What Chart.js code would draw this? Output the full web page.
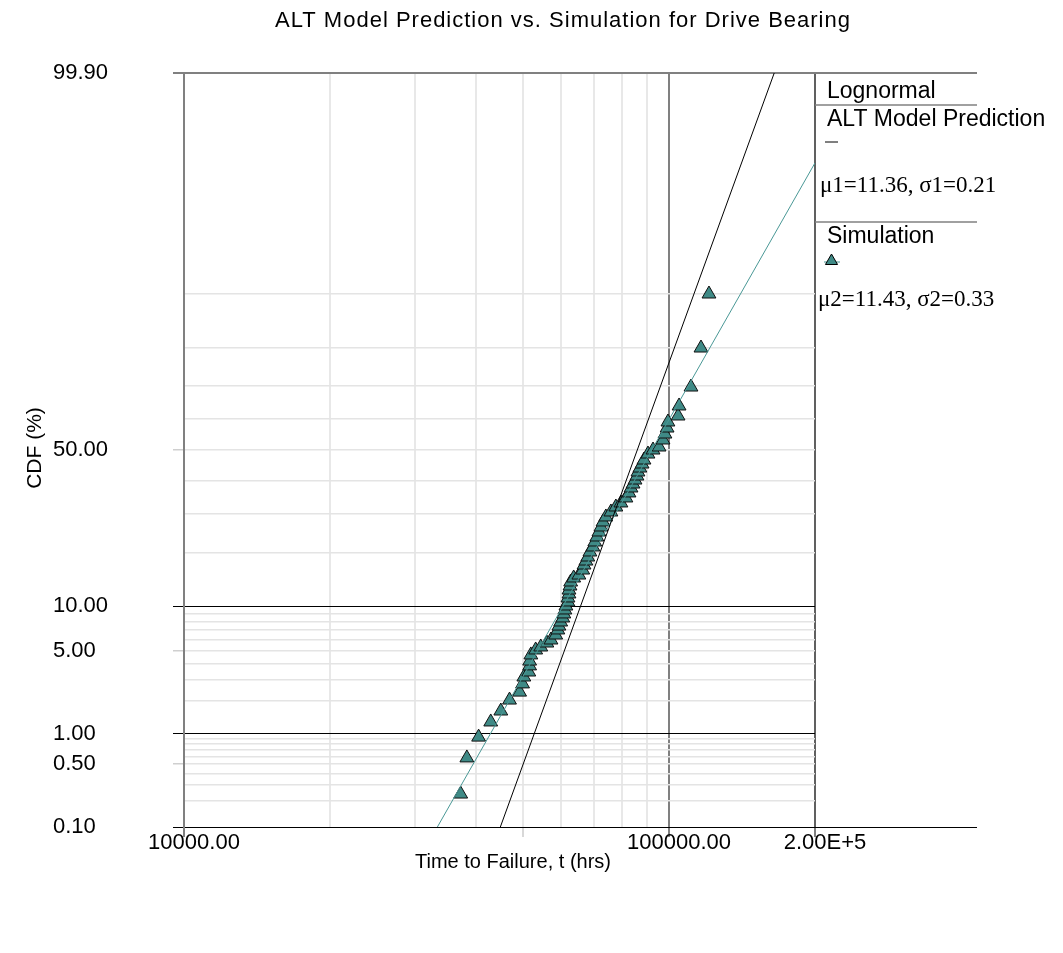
<!DOCTYPE html>
<html>
<head>
<meta charset="utf-8">
<script src="https://cdn.jsdelivr.net/npm/chart.js@4.4.1/dist/chart.umd.min.js"></script>
<style>
  html, body { margin: 0; padding: 0; background: #fff; }
</style>
</head>
<body>
<canvas id="plot" width="1063" height="953"></canvas>
<script>
// simulation failure times (hrs) and their plotted CDF (%)
const simTimes = [37200, 38300, 40500, 42900, 45000, 46900, 49200, 49900, 50200, 51400,
  51600, 51600, 51900, 53100, 54400, 56000, 57100, 58400, 59000, 59300,
  59800, 60400, 60700, 61000, 61300, 61900, 61900, 62200, 62200, 62500,
  62700, 63600, 65200, 66400, 66800, 67400, 68000, 68700, 69700, 70300,
  71000, 71700, 72400, 73100, 74100, 75900, 77700, 79600, 81500, 82700,
  83500, 84300, 85100, 85900, 86300, 87100, 88000, 88800, 90500, 92700,
  95400, 97200, 98100, 99100, 99500, 104400, 104900, 111000, 116400, 120900];
const simCdf = [0.24, 0.58, 0.93, 1.29, 1.62, 2.02, 2.36, 2.76, 3.14, 3.44,
  3.84, 4.18, 4.65, 5.06, 5.32, 5.68, 5.97, 6.47, 7.01, 7.45,
  7.93, 8.43, 8.95, 9.49, 10.05, 10.64, 11.26, 11.90, 12.55, 13.25,
  13.96, 14.71, 15.27, 16.26, 17.29, 18.14, 19.02, 20.16, 21.33, 22.54,
  23.79, 25.08, 26.40, 27.76, 29.15, 30.57, 32.02, 33.21, 34.71, 36.24,
  37.78, 39.02, 40.28, 41.56, 42.85, 44.12, 45.43, 46.73, 48.68, 50.00,
  50.98, 53.27, 55.21, 57.15, 59.08, 60.98, 64.09, 69.71, 79.84, 89.95];

// the two fitted lognormal lines (straight on this paper), end points
const altLineTimes = [44900, 164800];
const altLineCdf = [0.1, 99.9];
const simLineTimes = [33300, 200000];
const simLineCdf = [0.1, 99.07];

const yTicks = [0.1, 0.2, 0.3, 0.4, 0.5, 0.6, 0.7, 0.8, 0.9, 1, 2, 3, 4, 5, 6, 7, 8, 9,
  10, 20, 30, 40, 50, 60, 70, 80, 90, 99.9];
const yLabels = { 0.1: '0.10', 0.5: '0.50', 1: '1.00', 5: '5.00', 10: '10.00', 50: '50.00', 99.9: '99.90' };
const xTicks = [10000, 20000, 30000, 40000, 50000, 60000, 70000, 80000, 90000, 100000, 200000];
const xLabels = { 10000: '10000.00', 100000: '100000.00', 200000: '2.00E+5' };

const teal = '#3f8a86';
const tealLine = '#4a9896';

// inverse normal cdf (Acklam)
function probit(p) {
  const a = [-39.69683028665376, 220.9460984245205, -275.9285104469687, 138.3577518672690, -30.66479806614716, 2.506628277459239];
  const b = [-54.47609879822406, 161.5858368580409, -155.6989798598866, 66.80131188771972, -13.28068155288572];
  const c = [-0.007784894002430293, -0.3223964580411365, -2.400758277161838, -2.549732539343734, 4.374664141464968, 2.938163982698783];
  const d = [0.007784695709041462, 0.3224671290700398, 2.445134137142996, 3.754408661907416];
  const plow = 0.02425;
  let q, r;
  if (p < plow) {
    q = Math.sqrt(-2 * Math.log(p));
    return (((((c[0]*q+c[1])*q+c[2])*q+c[3])*q+c[4])*q+c[5]) / ((((d[0]*q+d[1])*q+d[2])*q+d[3])*q+1);
  }
  if (p > 1 - plow) {
    q = Math.sqrt(-2 * Math.log(1 - p));
    return -(((((c[0]*q+c[1])*q+c[2])*q+c[3])*q+c[4])*q+c[5]) / ((((d[0]*q+d[1])*q+d[2])*q+d[3])*q+1);
  }
  q = p - 0.5; r = q * q;
  return (((((a[0]*r+a[1])*r+a[2])*r+a[3])*r+a[4])*r+a[5])*q / (((((b[0]*r+b[1])*r+b[2])*r+b[3])*r+b[4])*r+1);
}

function normCdf(z) {
  const t = 1 / (1 + 0.2316419 * Math.abs(z));
  const dd = 0.3989423 * Math.exp(-z * z / 2);
  const p = dd * t * (0.3193815 + t * (-0.3565638 + t * (1.781478 + t * (-1.821256 + t * 1.330274))));
  return z > 0 ? 1 - p : p;
}

// normal probability paper axis
class ProbabilityScale extends Chart.Scale {
  determineDataLimits() {
    this.min = this.options.min;
    this.max = this.options.max;
  }
  buildTicks() {
    return yTicks.map(v => ({ value: v }));
  }
  getLabelForValue(v) {
    return v.toFixed(2);
  }
  configure() {
    super.configure();
    this._zMin = probit(this.min / 100);
    this._zMax = probit(this.max / 100);
  }
  getPixelForValue(v) {
    const z = probit(v / 100);
    return this.getPixelForDecimal((z - this._zMin) / (this._zMax - this._zMin));
  }
  getValueForPixel(px) {
    const z = this._zMin + this.getDecimalForPixel(px) * (this._zMax - this._zMin);
    return normCdf(z) * 100;
  }
}
ProbabilityScale.id = 'probability';
ProbabilityScale.defaults = {};
Chart.register(ProbabilityScale);

const toPoints = (xs, ys) => xs.map((x, i) => ({ x: x, y: ys[i] }));

function hline(ctx, x1, x2, y) {
  ctx.beginPath(); ctx.moveTo(x1, y); ctx.lineTo(x2, y); ctx.stroke();
}

function triangle(ctx, x, y, r) {
  ctx.beginPath();
  ctx.moveTo(x, y - r);
  ctx.lineTo(x + 0.866 * r, y + r / 2);
  ctx.lineTo(x - 0.866 * r, y + r / 2);
  ctx.closePath();
  ctx.fill(); ctx.stroke();
}

// titles, legend column and frame extensions
const decorations = {
  id: 'decorations',
  afterDraw(chart) {
    const ctx = chart.ctx;
    const a = chart.chartArea;
    const colRight = 977;
    ctx.save();

    ctx.strokeStyle = '#808080';
    ctx.lineWidth = 2;
    hline(ctx, a.right, colRight, a.top);
    ctx.lineWidth = 1.5;
    hline(ctx, a.right, colRight, 105);
    hline(ctx, a.right, colRight, 222);
    ctx.strokeStyle = '#000';
    ctx.lineWidth = 1;
    hline(ctx, a.right, colRight, a.bottom + 0.5);

    ctx.fillStyle = '#000';
    ctx.textBaseline = 'middle';

    ctx.textAlign = 'center';
    ctx.font = '22px "Liberation Sans", Arial, sans-serif';
    ctx.letterSpacing = '1px';
    ctx.fillText('ALT Model Prediction vs. Simulation for Drive Bearing', 563, 21);
    ctx.letterSpacing = '0px';

    ctx.font = '20px "Liberation Sans", Arial, sans-serif';
    ctx.fillText('Time to Failure, t (hrs)', 513, 862);

    ctx.save();
    ctx.translate(35, 448);
    ctx.rotate(-Math.PI / 2);
    ctx.font = '21px "Liberation Sans", Arial, sans-serif';
    ctx.fillText('CDF (%)', 0, 0);
    ctx.restore();

    ctx.textAlign = 'left';
    ctx.font = '23px "Liberation Sans", Arial, sans-serif';
    ctx.fillText('Lognormal', 827, 92);
    ctx.fillText('ALT Model Prediction', 827, 120);
    ctx.fillText('Simulation', 827, 237);

    ctx.strokeStyle = '#000';
    ctx.lineWidth = 1;
    hline(ctx, 825, 838, 142);

    ctx.font = '23px "Liberation Serif", "Times New Roman", serif';
    ctx.fillText('\u03bc1=11.36, \u03c31=0.21', 820, 186);
    ctx.fillText('\u03bc2=11.43, \u03c32=0.33', 818, 300);

    ctx.strokeStyle = tealLine;
    hline(ctx, 824, 840, 262);
    ctx.fillStyle = teal;
    ctx.strokeStyle = '#000';
    triangle(ctx, 831.5, 261, 7);

    ctx.restore();
  }
};

const isMainY = v => v === 10 || v === 1 || v === 0.1;

new Chart(document.getElementById('plot'), {
  type: 'scatter',
  data: {
    datasets: [
      {
        label: 'ALT Model Prediction',
        data: toPoints(altLineTimes, altLineCdf),
        showLine: true,
        borderColor: '#000',
        borderWidth: 1,
        pointRadius: 0,
        order: 0
      },
      {
        label: 'Simulation fit',
        data: toPoints(simLineTimes, simLineCdf),
        showLine: true,
        borderColor: tealLine,
        borderWidth: 1,
        pointRadius: 0,
        order: 1
      },
      {
        label: 'Simulation',
        data: toPoints(simTimes, simCdf),
        showLine: false,
        pointStyle: 'triangle',
        pointRadius: 8,
        backgroundColor: teal,
        borderColor: '#111',
        borderWidth: 1,
        order: 2
      }
    ]
  },
  options: {
    responsive: false,
    animation: false,
    layout: { padding: { left: 53, right: 248, top: 73, bottom: 0 } },
    plugins: {
      legend: { display: false },
      title: { display: false },
      tooltip: { enabled: false }
    },
    scales: {
      x: {
        type: 'logarithmic',
        min: 10000,
        max: 200000,
        afterBuildTicks: scale => { scale.ticks = xTicks.map(v => ({ value: v })); },
        afterFit: scale => {
          scale.height = 126;
          scale.paddingLeft = 0;
          scale.paddingRight = 0;
        },
        ticks: {
          autoSkip: false,
          maxRotation: 0,
          padding: -5,
          labelOffset: 10,
          color: '#000',
          font: { family: '"Liberation Sans", Arial, sans-serif', size: 22, lineHeight: 1 },
          callback: v => xLabels[v] || ''
        },
        grid: {
          tickLength: 10,
          lineWidth: 2,
          color: ctx => {
            const v = ctx.tick && ctx.tick.value;
            if (v === 100000) return '#808080';
            if (v === 200000) return '#606060';
            if (v === 10000) return '#808080';
            return '#e8e8e8';
          },
          tickColor: ctx => {
            const v = ctx.tick && ctx.tick.value;
            if (xLabels[v]) return '#808080';
            if (v === 50000) return '#d8d8d8';
            return 'rgba(0,0,0,0)';
          }
        },
        border: { color: '#000', width: 1 }
      },
      y: {
        type: 'probability',
        min: 0.1,
        max: 99.9,
        afterFit: scale => {
          scale.width = 131;
          scale.paddingTop = 0;
          scale.paddingBottom = 0;
        },
        ticks: {
          autoSkip: false,
          crossAlign: 'far',
          color: '#000',
          font: { family: '"Liberation Sans", Arial, sans-serif', size: 22, lineHeight: 1 },
          callback: v => yLabels[v] || ''
        },
        grid: {
          tickLength: 11,
          color: ctx => {
            const v = ctx.tick && ctx.tick.value;
            if (isMainY(v)) return '#000';
            if (v === 99.9) return '#808080';
            return '#e4e4e4';
          },
          lineWidth: ctx => {
            const v = ctx.tick && ctx.tick.value;
            if (v === 99.9) return 2;
            if (isMainY(v)) return 1;
            return 1.5;
          },
          tickColor: ctx => {
            const v = ctx.tick && ctx.tick.value;
            if (isMainY(v)) return '#000';
            if (v === 99.9) return '#808080';
            if (yLabels[v]) return '#cfcfcf';
            return 'rgba(0,0,0,0)';
          }
        },
        border: { color: '#808080', width: 2 }
      }
    }
  },
  plugins: [decorations]
});
</script>
</body>
</html>
